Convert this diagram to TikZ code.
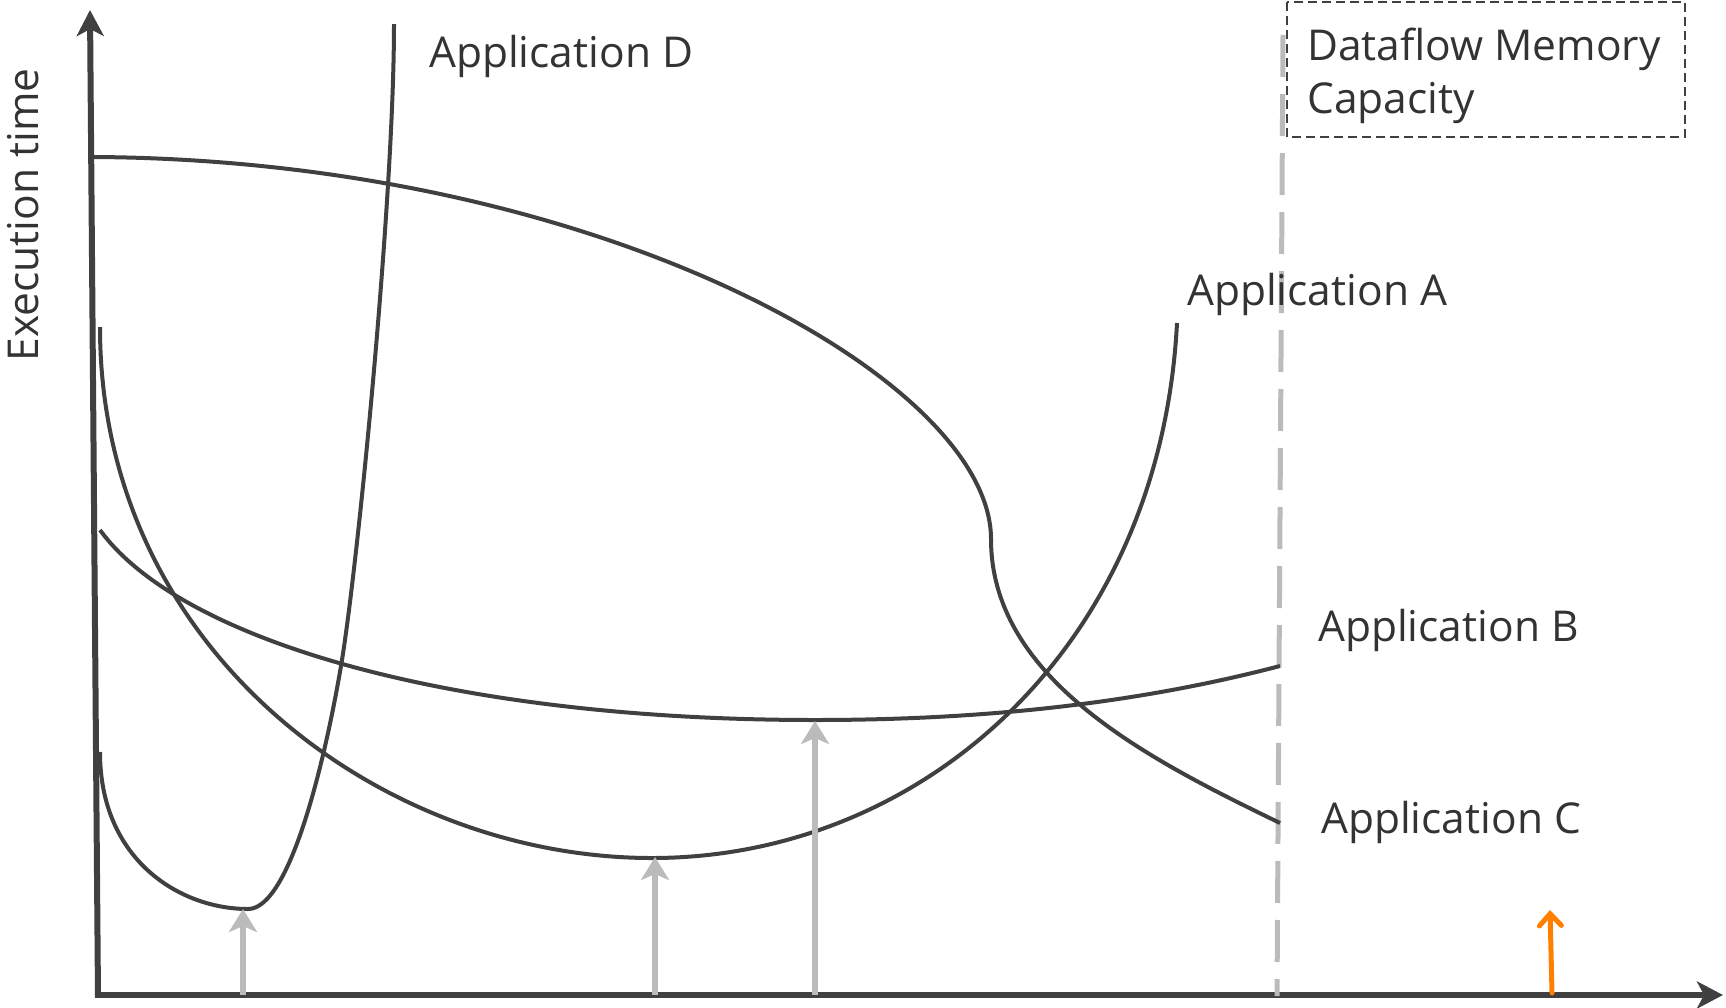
\documentclass[tikz,border=0pt]{standalone}
\usepackage{fontspec}
\setmainfont{Open Sans}
\usetikzlibrary{arrows.meta}
\definecolor{ink}{HTML}{404040}
\definecolor{txt}{HTML}{333333}
\definecolor{lgray}{HTML}{BBBBBB}
\definecolor{orng}{HTML}{FF7F00}
\begin{document}
\begin{tikzpicture}[x=1pt,y=-1pt,
  axisline/.style={draw=ink,line width=6pt,-{Stealth[length=26pt,width=27pt,inset=7pt]}},
  curveline/.style={draw=ink,line width=4pt},
  marker/.style={draw=lgray,line width=6pt,-{Stealth[length=23pt,width=28pt,inset=6pt]}},
  optarrow/.style={draw=orng,line width=5pt,line cap=round,-{Straight Barb[length=12pt,width=22pt,line cap=round]}},
  label/.style={font=\fontsize{42.5}{50}\selectfont,text=txt,inner sep=0pt}]
\useasboundingbox (0,0) rectangle (1726,1007);
% axes
\coordinate (yb) at (98,997);
\coordinate (yt) at (90,10);
\coordinate (xl) at (95,995);
\coordinate (xr) at (1723,995);
\draw[axisline] (yb) -- (yt);
\draw[axisline] (xl) -- (xr);
\node[label,rotate=90,anchor=base] (ylab) at (38,215) {Execution time};
% memory capacity line and box
\coordinate (mt) at (1283,35);
\coordinate (mb) at (1277,996);
\draw[lgray,line width=5pt,dash pattern=on 42pt off 17pt] (mt) -- (mb);
\draw[ink,line width=2pt,dash pattern=on 9pt off 5pt] (1287,2) rectangle (1685,137);
\node[label,anchor=base west] (cap1) at (1307,60) {Dataflow Memory};
\node[label,anchor=base west] (cap2) at (1307,113) {Capacity};
% curve minima
\coordinate (dmin) at (248,909);
\coordinate (amin) at (652,858);
\coordinate (bmin) at (815,720);
% Application A
\draw[curveline] (100,327) .. controls (100,650) and (380,858) .. (amin)
  .. controls (920,858) and (1160,650) .. (1177,323);
% Application B
\draw[curveline] (100,530) .. controls (180,640) and (450,720) .. (bmin)
  .. controls (1000,720) and (1150,700) .. (1280,666);
% Application C
\draw[curveline] (94,157) .. controls (600,160) and (991,380) .. (991,539)
  .. controls (991,680) and (1150,760) .. (1280,823);
% Application D
\draw[curveline] (100,752) .. controls (100,860) and (180,909) .. (dmin)
  .. controls (290,909) and (325,760) .. (341,666)
  .. controls (357,572) and (394,200) .. (394,24);
% labels
\node[label,anchor=base west] (labD) at (429,67) {Application D};
\node[label,anchor=base west] (labA) at (1187,305) {Application A};
\node[label,anchor=base west] (labB) at (1318,641) {Application B};
\node[label,anchor=base west] (labC) at (1321,833) {Application C};
% optimum markers
\coordinate (dbase) at (243,995);
\coordinate (abase) at (655,995);
\coordinate (bbase) at (815,995);
\coordinate (dtop) at (243,909);
\coordinate (atop) at (655,857);
\coordinate (btop) at (815,721);
\draw[marker] (dbase) -- (dtop);
\draw[marker] (abase) -- (atop);
\draw[marker] (bbase) -- (btop);
\coordinate (obase) at (1552,993);
\coordinate (otop) at (1550,910);
\draw[optarrow] (obase) -- (otop);
\end{tikzpicture}
\end{document}
